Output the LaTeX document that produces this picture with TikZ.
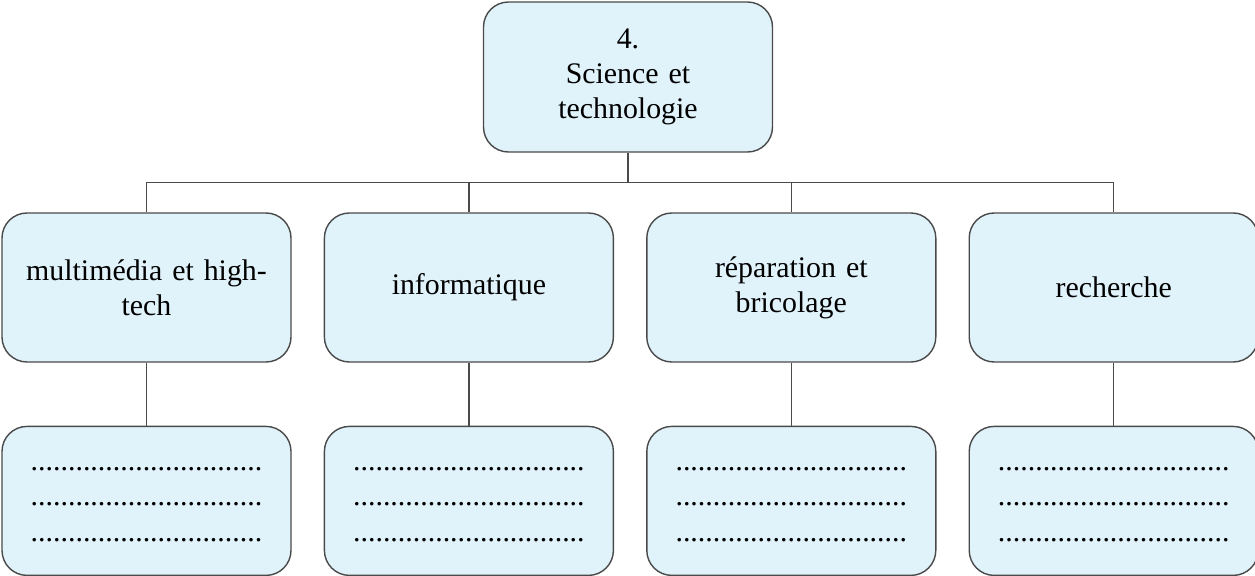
\documentclass[tikz,border=0pt]{standalone}
\usepackage{fontspec}
\setmainfont{Liberation Serif}
\usepackage{tikz}
\usetikzlibrary{positioning}
\definecolor{boxfill}{HTML}{E0F2FA}
\definecolor{boxline}{HTML}{4A4A4A}
\tikzstyle{theme} = [
    rectangle, draw=boxline, fill=boxfill, line width=0.8pt,
    rounded corners=0.5cm,
    minimum width=5.78cm, minimum height=2.98cm, % same size for all boxes
    text width=5.2cm, align=center,
    font=\fontsize{17}{20}\selectfont
]
\tikzstyle{link} = [draw=boxline, line width=0.7pt]
\newcommand{\blanklines}{%
    \rule{0pt}{6pt}...............................\\
    ...............................\\
    ...............................}

\begin{document}
\begin{tikzpicture}
        \useasboundingbox (0,0) rectangle (25.1,-11.52);
        % Main topic
        \node[theme, minimum height=3cm] (sci) at (12.56,-1.54) {
            4.\\
            Science et\\
            technologie
        };

        % Sub-topics
        \node[theme] (multi) at (2.93,-5.75) {multimédia et high-\\tech};
        \node[theme] (info) [right=0.64cm of multi] {informatique};
        \node[theme] (repar) [right=0.64cm of info] {réparation et\\bricolage};
        \node[theme] (rech) [right=0.64cm of repar] {recherche};

        % Answer boxes
        \node[theme] (multiA) [below=1.26cm of multi] {\blanklines};
        \node[theme] (infoA) [below=1.26cm of info] {\blanklines};
        \node[theme] (reparA) [below=1.26cm of repar] {\blanklines};
        \node[theme] (rechA) [below=1.26cm of rech] {\blanklines};

        % Tree lines
        \draw[link] (sci.south) -- ++(0,-0.6) coordinate (bus);
        \draw[link] (multi.north) -- (multi.north |- bus) -- (rech.north |- bus) -- (rech.north);
        \draw[link] (info.north) -- (info.north |- bus);
        \draw[link] (repar.north) -- (repar.north |- bus);
        \foreach \sub in {multi, info, repar, rech}
            \draw[link] (\sub.south) -- (\sub A.north);
    \end{tikzpicture}
\end{document}
